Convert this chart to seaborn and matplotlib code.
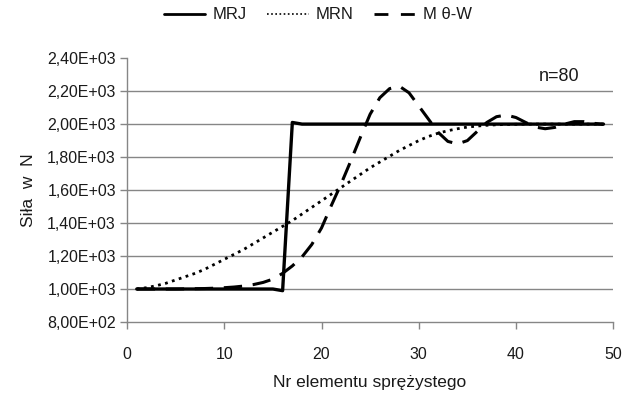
import numpy as np
import pandas as pd
import matplotlib
matplotlib.use("Agg")
import matplotlib.pyplot as plt
import seaborn as sns
from matplotlib.ticker import FuncFormatter

x_elem = list(range(1, 50))

mrj = [1000]*15 + [990, 2010] + [2000]*32

mrn = [1000, 1008, 1020, 1035, 1055, 1075, 1095, 1120, 1150, 1180,
       1210, 1240, 1275, 1310, 1345, 1380, 1415, 1455, 1495, 1535,
       1575, 1615, 1655, 1695, 1735, 1770, 1805, 1840, 1870, 1900,
       1925, 1945, 1960, 1972, 1982, 1988, 1993, 1996, 1998, 1999,
       2000, 2000, 2000, 2000, 2000, 2000, 2000, 2000, 2000]

mtw = [1000, 1000, 1000, 1000, 1000, 1001, 1002, 1003, 1005, 1008,
       1012, 1018, 1027, 1040, 1060, 1095, 1140, 1195, 1270, 1370,
       1505, 1635, 1775, 1920, 2060, 2160, 2215, 2230, 2190, 2110,
       2030, 1950, 1895, 1880, 1900, 1955, 2010, 2045, 2055, 2040,
       2010, 1982, 1972, 1980, 2000, 2015, 2015, 2005, 1998]

series_names = ["MRJ", "MRN", "M \u03b8-W"]
x_ticks = [0, 10, 20, 30, 40, 50]
y_ticks = [800, 1000, 1200, 1400, 1600, 1800, 2000, 2200, 2400]

df = pd.DataFrame({
    "x": x_elem * 3,
    "y": mrj + mrn + mtw,
    "s": [series_names[0]]*len(x_elem) + [series_names[1]]*len(x_elem) + [series_names[2]]*len(x_elem),
})

sns.set_theme(style="white")
plt.rcParams["font.family"] = ["Liberation Sans", "DejaVu Sans"]

fig = plt.figure(figsize=(6.27, 4.01), dpi=100)
ax = fig.add_axes([0.2026, 0.197, 0.978 - 0.2026, 0.855 - 0.197])

grey = "#868686"
txt = "#1a1a1a"
ax.set_axisbelow(True)
for yv in y_ticks[1:-1]:
    ax.axhline(yv, color=grey, lw=1.0, zorder=0)

styles = {series_names[0]: dict(ls="-", lw=2.4),
          series_names[1]: dict(ls=(0, (1, 1.6)), lw=2.0),
          series_names[2]: dict(ls=(0, (6, 3.5)), lw=2.2)}
for name in series_names:
    sub = df[df["s"] == name]
    sns.lineplot(data=sub, x="x", y="y", ax=ax, color="black", label=name,
                 linestyle=styles[name]["ls"], lw=styles[name]["lw"])

ax.set_xlim(0, 50)
ax.set_ylim(800, 2400)
ax.set_xticks(x_ticks)
ax.set_yticks(y_ticks)

def fmt(v, pos):
    s = "{:.2E}".format(v)
    return s.replace(".", ",")
ax.yaxis.set_major_formatter(FuncFormatter(fmt))

for side in ["top", "right"]:
    ax.spines[side].set_visible(False)
for side in ["left", "bottom"]:
    ax.spines[side].set_color(grey)
    ax.spines[side].set_linewidth(1.0)
ax.tick_params(axis="both", which="both", direction="out", length=5, width=1.0,
               color=grey, labelsize=11.5, labelcolor=txt)
ax.tick_params(axis="x", pad=13)
ax.tick_params(axis="y", pad=3)
ax.yaxis.get_major_ticks()[-1].tick1line.set_visible(False)
ax.tick_params(left=True, bottom=True)

ax.set_xlabel("Nr elementu sprężystego", fontsize=12.5, color=txt, labelpad=9)
ax.set_ylabel("Siła  w  N", fontsize=12.5, color=txt, labelpad=8)

ax.text(42.3, 2288, "n=80", fontsize=13, color=txt, va="center", ha="left")

leg = ax.legend(loc="center", bbox_to_anchor=(0.507, 0.963), bbox_transform=fig.transFigure,
                ncol=3, frameon=False, fontsize=12, handlelength=2.5,
                columnspacing=1.2, handletextpad=0.45)
hl = leg.get_lines()
hl[0].set_linewidth(2.0)
hl[1].set_linewidth(1.2)
hl[1].set_linestyle((0, (1, 1.5)))
hl[2].set_linewidth(2.0)
hl[2].set_linestyle((0, (5, 4.5)))
for t in leg.get_texts():
    t.set_color(txt)

fig.savefig("out.png", dpi=100)
